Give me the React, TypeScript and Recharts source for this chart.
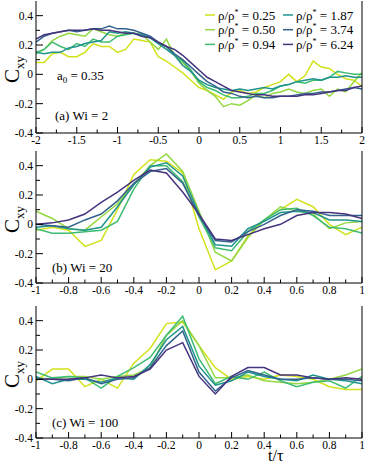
import React from "react"
import { LineChart, Line, XAxis, YAxis } from "recharts"

// t/tau grid for panel (a) and for panels (b), (c)
const tWide = [
    -2, -1.9, -1.8, -1.7, -1.6, -1.5, -1.4, -1.3, -1.2, -1.1, -1, -0.9, -0.8, -0.7, -0.6, -0.5, -0.4, -0.3, -0.2, -0.1,
    0, 0.1, 0.2, 0.3, 0.4, 0.5, 0.6, 0.7, 0.8, 0.9, 1, 1.1, 1.2, 1.3, 1.4, 1.5, 1.6, 1.7, 1.8, 1.9, 2
]
const tNarrow = [-1, -0.9, -0.8, -0.7, -0.6, -0.5, -0.4, -0.3, -0.2, -0.1, 0, 0.1, 0.2, 0.3, 0.4, 0.5, 0.6, 0.7, 0.8, 0.9, 1]

// (a) Wi = 2
const a_025 = [0.08, 0.08, 0.14, 0.15, 0.12, 0.12, 0.15, 0.21, 0.19, 0.19, 0.15, 0.17, 0.24, 0.23, 0.22, 0.12, 0.09, 0.05, 0.01, -0.04, -0.09, -0.11, -0.14, -0.17, -0.12, -0.11, -0.13, -0.12, -0.09, -0.07, -0.05, 0.0, -0.05, -0.01, 0.09, 0.05, 0.04, 0.0, -0.03, -0.04, -0.08]
const a_050 = [0.14, 0.17, 0.23, 0.26, 0.28, 0.27, 0.26, 0.31, 0.29, 0.27, 0.26, 0.28, 0.28, 0.27, 0.22, 0.17, 0.24, 0.13, 0.08, 0.02, -0.06, -0.11, -0.15, -0.22, -0.2, -0.21, -0.18, -0.14, -0.16, -0.13, -0.12, -0.1, -0.12, -0.13, -0.11, -0.1, -0.15, -0.1, -0.12, -0.05, 0.01]
const a_094 = [0.15, 0.17, 0.22, 0.19, 0.17, 0.21, 0.19, 0.24, 0.22, 0.22, 0.26, 0.27, 0.28, 0.26, 0.25, 0.21, 0.19, 0.13, 0.09, 0.03, -0.05, -0.09, -0.11, -0.14, -0.16, -0.16, -0.15, -0.13, -0.13, -0.11, -0.08, -0.07, -0.05, -0.06, -0.04, -0.04, -0.02, 0.02, 0.01, 0.0, 0.0]
const a_187 = [0.15, 0.14, 0.15, 0.15, 0.18, 0.19, 0.21, 0.22, 0.23, 0.29, 0.28, 0.29, 0.28, 0.27, 0.25, 0.21, 0.17, 0.13, 0.06, 0.02, -0.04, -0.07, -0.09, -0.1, -0.11, -0.1, -0.11, -0.1, -0.09, -0.1, -0.08, -0.07, -0.05, -0.04, -0.03, -0.04, -0.02, -0.02, -0.01, -0.02, -0.02]
const a_374 = [0.22, 0.26, 0.28, 0.29, 0.3, 0.29, 0.3, 0.31, 0.31, 0.33, 0.31, 0.31, 0.3, 0.28, 0.26, 0.22, 0.19, 0.14, 0.1, 0.05, 0.0, -0.05, -0.08, -0.12, -0.13, -0.15, -0.16, -0.15, -0.16, -0.16, -0.15, -0.15, -0.14, -0.13, -0.13, -0.12, -0.12, -0.11, -0.1, -0.09, -0.1]
const a_624 = [0.24, 0.27, 0.28, 0.29, 0.3, 0.3, 0.3, 0.31, 0.3, 0.3, 0.29, 0.28, 0.28, 0.26, 0.25, 0.22, 0.19, 0.17, 0.13, 0.08, 0.03, -0.02, -0.05, -0.08, -0.11, -0.12, -0.13, -0.14, -0.14, -0.15, -0.15, -0.15, -0.15, -0.14, -0.14, -0.13, -0.12, -0.11, -0.11, -0.09, -0.08]

// (b) Wi = 20
const b_025 = [-0.04, -0.02, -0.04, -0.15, -0.11, 0.1, 0.34, 0.44, 0.43, 0.35, -0.03, -0.31, -0.25, -0.08, 0.03, 0.1, 0.17, 0.12, 0.0, -0.07, -0.02]
const b_050 = [0.09, 0.04, -0.03, -0.04, 0.05, 0.14, 0.27, 0.4, 0.48, 0.36, 0.09, -0.19, -0.25, -0.09, 0.03, 0.12, 0.09, 0.07, -0.03, 0.01, 0.02]
const b_094 = [-0.03, -0.06, -0.06, -0.05, -0.04, 0.02, 0.24, 0.4, 0.4, 0.29, 0.05, -0.16, -0.18, -0.05, 0.03, 0.1, 0.11, 0.06, -0.02, -0.03, -0.06]
const b_187 = [-0.02, -0.01, -0.03, -0.04, -0.02, 0.12, 0.27, 0.39, 0.42, 0.33, 0.07, -0.14, -0.15, -0.03, 0.02, 0.08, 0.09, 0.08, 0.03, 0.03, 0.02]
const b_374 = [0.0, -0.01, -0.02, 0.03, 0.07, 0.16, 0.28, 0.36, 0.38, 0.28, 0.06, -0.11, -0.12, -0.05, 0.0, 0.06, 0.1, 0.09, 0.06, 0.06, 0.06]
const b_624 = [0.0, 0.01, 0.03, 0.07, 0.15, 0.22, 0.3, 0.37, 0.35, 0.22, 0.07, -0.1, -0.11, -0.07, -0.03, 0.0, 0.06, 0.08, 0.08, 0.07, 0.04]

// (c) Wi = 100
const c_025 = [-0.01, 0.07, 0.07, -0.05, 0.0, -0.06, 0.11, 0.21, 0.38, 0.39, 0.23, 0.08, 0.0, 0.02, 0.0, 0.03, 0.02, 0.0, -0.05, -0.07, -0.07]
const c_050 = [0.01, 0.0, 0.02, 0.02, 0.0, 0.02, 0.03, 0.08, 0.3, 0.4, 0.23, 0.01, 0.01, 0.03, -0.01, -0.02, -0.03, -0.02, 0.0, 0.03, 0.07]
const c_094 = [0.05, 0.01, 0.02, 0.01, -0.06, 0.02, 0.08, 0.15, 0.3, 0.43, 0.14, -0.03, 0.02, 0.0, 0.05, -0.01, -0.05, -0.02, -0.01, -0.06, 0.02]
const c_187 = [0.02, -0.03, 0.0, 0.0, -0.02, 0.01, 0.0, 0.1, 0.27, 0.36, 0.09, -0.04, -0.01, 0.05, 0.02, 0.0, -0.01, 0.03, 0.0, -0.01, -0.03]
const c_374 = [0.0, 0.0, -0.01, 0.01, -0.03, 0.0, 0.01, 0.08, 0.23, 0.33, 0.05, -0.08, 0.01, 0.06, 0.03, 0.0, 0.0, 0.01, 0.0, 0.0, -0.01]
const c_624 = [0.0, 0.0, 0.0, 0.01, 0.03, 0.01, 0.02, 0.07, 0.2, 0.25, 0.02, -0.1, 0.02, 0.08, 0.08, 0.03, 0.03, 0.01, 0.0, 0.01, 0.0]

const seriesNames = ["0.25", "0.50", "0.94", "1.87", "3.74", "6.24"]
const seriesKeys = ["r025", "r050", "r094", "r187", "r374", "r624"]
const seriesColors = ["#d2e21b", "#93d741", "#3fbc73", "#1f948c", "#33638d", "#46337e"]

// axis ticks
const yMajor = [-0.4, -0.2, 0, 0.2, 0.4]
const yMinor = [-0.3, -0.1, 0.1, 0.3]
const xMajorWide = [-2, -1.5, -1, -0.5, 0, 0.5, 1, 1.5, 2]
const xMinorWide = [-1.75, -1.25, -0.75, -0.25, 0.25, 0.75, 1.25, 1.75]
const xMajorNarrow = [-1, -0.8, -0.6, -0.4, -0.2, 0, 0.2, 0.4, 0.6, 0.8, 1]
const xMinorNarrow = [-0.9, -0.7, -0.5, -0.3, -0.1, 0.1, 0.3, 0.5, 0.7, 0.9]

const FONT = "Liberation Serif"
const PLOT_H = 132
const CHART_H = PLOT_H + 1 + 18

const buildRows = (t: number[], cols: number[][]) =>
    t.map((v, i) => {
        const row: any = { t: v }
        seriesKeys.forEach((k, j) => { row[k] = cols[j][i] })
        return row
    })

const panelA = buildRows(tWide, [a_025, a_050, a_094, a_187, a_374, a_624])
const panelB = buildRows(tNarrow, [b_025, b_050, b_094, b_187, b_374, b_624])
const panelC = buildRows(tNarrow, [c_025, c_050, c_094, c_187, c_374, c_624])

const isIn = (list: number[], v: number) => list.some(m => Math.abs(m - v) < 1e-6)
const fmt = (v: number) => {
    const r = Math.round(v * 100) / 100
    return r === 0 ? "0" : String(r)
}

const LeftTick = (props: any) => {
    const { x, y, payload } = props
    const major = isIn(yMajor, payload.value)
    return (
        <g>
            <line x1={x} y1={y} x2={x + (major ? 7 : 4)} y2={y} stroke="#000" strokeWidth={1} />
            {major && (
                <text x={x - 3} y={y + 4} textAnchor="end" fontSize={11.5} style={{ fontFamily: FONT }} fill="#000">
                    {fmt(payload.value)}
                </text>
            )}
        </g>
    )
}

const RightTick = (props: any) => {
    const { x, y, payload } = props
    const major = isIn(yMajor, payload.value)
    return <line x1={x} y1={y} x2={x - (major ? 7 : 4)} y2={y} stroke="#000" strokeWidth={1} />
}

const makeBottomTick = (majors: number[]) => (props: any) => {
    const { x, y, payload } = props
    const major = isIn(majors, payload.value)
    return (
        <g>
            <line x1={x} y1={y} x2={x} y2={y - (major ? 6 : 3.5)} stroke="#000" strokeWidth={1} />
            {major && (
                <text x={x} y={y + 11} textAnchor="middle" fontSize={11.5} style={{ fontFamily: FONT }} fill="#000">
                    {fmt(payload.value)}
                </text>
            )}
        </g>
    )
}

const BottomTickWide = makeBottomTick(xMajorWide)
const BottomTickNarrow = makeBottomTick(xMajorNarrow)

function Panel({ data, domain, majors, minors, tick, top }: any) {
    return (
        <div style={{ position: "absolute", left: 0, top }}>
            <LineChart width={366} height={CHART_H} data={data} margin={{ top: 1, right: 0, left: 0, bottom: 0 }}>
                <XAxis
                    xAxisId="b"
                    dataKey="t"
                    type="number"
                    domain={domain}
                    ticks={[...majors, ...minors].sort((p, q) => p - q)}
                    interval={0}
                    tickSize={0}
                    tickMargin={0}
                    tickLine={false}
                    height={18}
                    axisLine={{ stroke: "#000" }}
                    tick={tick}
                    allowDataOverflow
                />
                <XAxis xAxisId="top" orientation="top" dataKey="t" type="number" domain={domain} height={0} tick={false} tickLine={false} axisLine={{ stroke: "#000" }} />
                <YAxis
                    yAxisId="l"
                    type="number"
                    domain={[-0.4, 0.5]}
                    ticks={[...yMajor, ...yMinor].sort((p, q) => p - q)}
                    interval={0}
                    width={36}
                    tickSize={0}
                    tickMargin={0}
                    tickLine={false}
                    axisLine={{ stroke: "#000" }}
                    tick={<LeftTick />}
                    allowDataOverflow
                />
                <YAxis
                    yAxisId="r"
                    orientation="right"
                    type="number"
                    domain={[-0.4, 0.5]}
                    ticks={[...yMajor, ...yMinor].sort((p, q) => p - q)}
                    interval={0}
                    width={4}
                    tickSize={0}
                    tickMargin={0}
                    tickLine={false}
                    axisLine={{ stroke: "#000" }}
                    tick={<RightTick />}
                />
                {seriesKeys.map((k, i) => (
                    <Line
                        key={k}
                        xAxisId="b"
                        yAxisId="l"
                        dataKey={k}
                        stroke={seriesColors[i]}
                        strokeWidth={1.5}
                        dot={false}
                        type="linear"
                        isAnimationActive={false}
                    />
                ))}
            </LineChart>
        </div>
    )
}

const panelTops = [0, 150, 305]

export default function App() {
    return (
        <div style={{ position: "absolute", left: 0, top: 0, width: 366, height: 464, background: "#fff", fontFamily: FONT }}>
            <Panel data={panelA} domain={[-2, 2]} majors={xMajorWide} minors={xMinorWide} tick={<BottomTickWide />} top={panelTops[0]} />
            <Panel data={panelB} domain={[-1, 1]} majors={xMajorNarrow} minors={xMinorNarrow} tick={<BottomTickNarrow />} top={panelTops[1]} />
            <Panel data={panelC} domain={[-1, 1]} majors={xMajorNarrow} minors={xMinorNarrow} tick={<BottomTickNarrow />} top={panelTops[2]} />

            <svg width={366} height={464} style={{ position: "absolute", left: 0, top: 0, pointerEvents: "none", fontFamily: FONT }}>
                {panelTops.map((pt, i) => {
                    const cy = pt + 1 + PLOT_H / 2
                    return (
                        <text key={i} transform={`translate(19, ${cy + 16}) rotate(-90)`} fontSize={21} fill="#000">
                            C<tspan fontSize={13} dy={5}>xy</tspan>
                        </text>
                    )
                })}

                {seriesNames.map((n, i) => {
                    const col = i < 3 ? 0 : 1
                    const row = i % 3
                    const lx = col === 0 ? 205 : 283
                    const ly = 15 + row * 14.7
                    return (
                        <g key={n}>
                            <line x1={lx} y1={ly} x2={lx + 10} y2={ly} stroke={seriesColors[i]} strokeWidth={1.5} />
                            <text x={lx + 13} y={ly + 4.5} fontSize={13} fill="#000">
                                ρ/ρ<tspan fontSize={8} dy={-5}>*</tspan>
                                <tspan dy={5}> = {n}</tspan>
                            </text>
                        </g>
                    )
                })}

                <text x={57} y={80} fontSize={13} fill="#000">
                    a<tspan fontSize={9} dy={3}>0</tspan>
                    <tspan dy={-3}> = 0.35</tspan>
                </text>
                <text x={55} y={120} fontSize={13} fill="#000">(a) Wi = 2</text>
                <text x={52} y={272} fontSize={13} fill="#000">(b) Wi = 20</text>
                <text x={52} y={427} fontSize={13} fill="#000">(c) Wi = 100</text>
                <text x={268} y={461} fontSize={16} fill="#000">t/τ</text>
            </svg>
        </div>
    )
}
